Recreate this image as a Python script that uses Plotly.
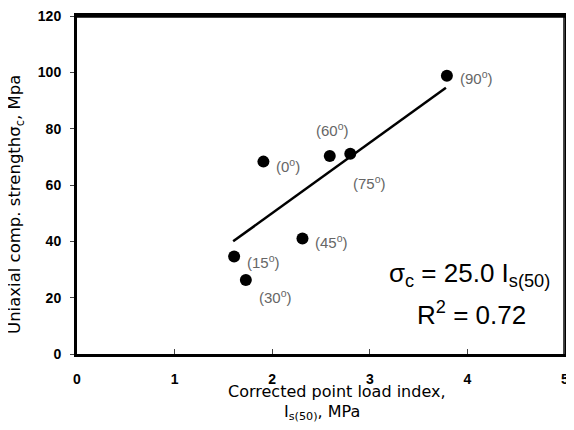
import plotly.graph_objects as go

# Data
angles = ["0", "15", "30", "45", "60", "75", "90"]
is50 = [1.91, 1.61, 1.73, 2.31, 2.59, 2.80, 3.79]
ucs = [68.3, 34.6, 26.3, 41.0, 70.3, 71.1, 98.8]
fit_x = [1.60, 3.78]
fit_y = [40.0, 94.5]
x_ticks = [0, 1, 2, 3, 4, 5]
y_ticks = [0, 20, 40, 60, 80, 100, 120]

# label offsets (pixels) relative to each point: (xshift, yshift, xanchor)
label_pos = {
    "0": (11, -4, "left"),
    "15": (11, -5, "left"),
    "30": (11, -17, "left"),
    "45": (11, -3, "left"),
    "60": (3, 26, "center"),
    "75": (1, -29, "left"),
    "90": (11, -2, "left"),
}

TXT = "DejaVu Sans, Verdana"
fig = go.Figure()
fig.add_trace(go.Scatter(x=fit_x, y=fit_y, mode="lines",
                         line=dict(color="black", width=2.5), showlegend=False))
fig.add_trace(go.Scatter(x=is50, y=ucs, mode="markers",
                         marker=dict(color="black", size=12), showlegend=False))

anns = []
for a, xv, yv in zip(angles, is50, ucs):
    xs, ys, xa = label_pos[a]
    anns.append(dict(x=xv, y=yv, xref="x", yref="y", text=f"({a}<sup>o</sup>)",
                     showarrow=False, xanchor=xa, yanchor="middle",
                     xshift=xs, yshift=ys,
                     font=dict(family="Liberation Sans, Arial", size=15, color="#666666")))

anns.append(dict(x=0.973, y=0.235, xref="paper", yref="paper", xanchor="right", yanchor="middle",
                 text="σ<sub>c</sub> = 25.0 I<sub>s(50)</sub>", showarrow=False,
                 font=dict(family="Liberation Sans, Arial", size=26, color="black")))
anns.append(dict(x=0.924, y=0.12, xref="paper", yref="paper", xanchor="right", yanchor="middle",
                 text="R<sup>2</sup> = 0.72", showarrow=False,
                 font=dict(family="Liberation Sans, Arial", size=26, color="black")))
# axis titles
anns.append(dict(x=-0.125, y=0.441, xref="paper", yref="paper", xanchor="center", yanchor="middle",
                 text="Uniaxial comp. strengthσ<sub>c</sub>, Mpa", textangle=-90, showarrow=False,
                 font=dict(family=TXT, size=16.5, color="black")))
anns.append(dict(x=0.533, y=-0.112, xref="paper", yref="paper", xanchor="center", yanchor="middle",
                 text="Corrected point load index,", showarrow=False,
                 font=dict(family=TXT, size=16, color="black")))
anns.append(dict(x=0.502, y=-0.172, xref="paper", yref="paper", xanchor="center", yanchor="middle",
                 text="I<sub>s(50)</sub>, MPa", showarrow=False,
                 font=dict(family=TXT, size=16, color="black")))

# the page body places the figure 8px from the top-left corner; margins compensate
fig.update_layout(
    width=574, height=430,
    margin=dict(l=69, r=17, t=8, b=84),
    paper_bgcolor="white", plot_bgcolor="white",
    font=dict(family="Liberation Sans, Arial", color="black"),
    annotations=anns,
    shapes=[
        dict(type="line", xref="paper", yref="paper", x0=0, x1=1, y0=0.998, y1=0.998,
             line=dict(color="black", width=2)),
        dict(type="line", xref="paper", yref="paper", x0=0.998, x1=0.998, y0=0, y1=1,
             line=dict(color="black", width=1.5)),
    ],
)
fig.update_xaxes(range=[0, 5], tickvals=x_ticks, ticks="inside", ticklen=5, tickwidth=1,
                 showgrid=False, zeroline=False, showline=True, linecolor="black", linewidth=3,
                 mirror=True,
                 automargin=False, ticklabelstandoff=10, ticklabeloverflow="allow",
                 tickfont=dict(size=14, family="Liberation Sans, Arial", weight="bold"))
fig.update_yaxes(range=[0, 120], tickvals=y_ticks, ticks="outside", ticklen=4, tickwidth=1,
                 showgrid=False, zeroline=False, showline=True, linecolor="black", linewidth=3,
                 mirror=True,
                 automargin=False, ticklabelstandoff=6, ticklabeloverflow="allow",
                 tickfont=dict(size=14, family="Liberation Sans, Arial", weight="bold"))

fig.write_html("out.html")
